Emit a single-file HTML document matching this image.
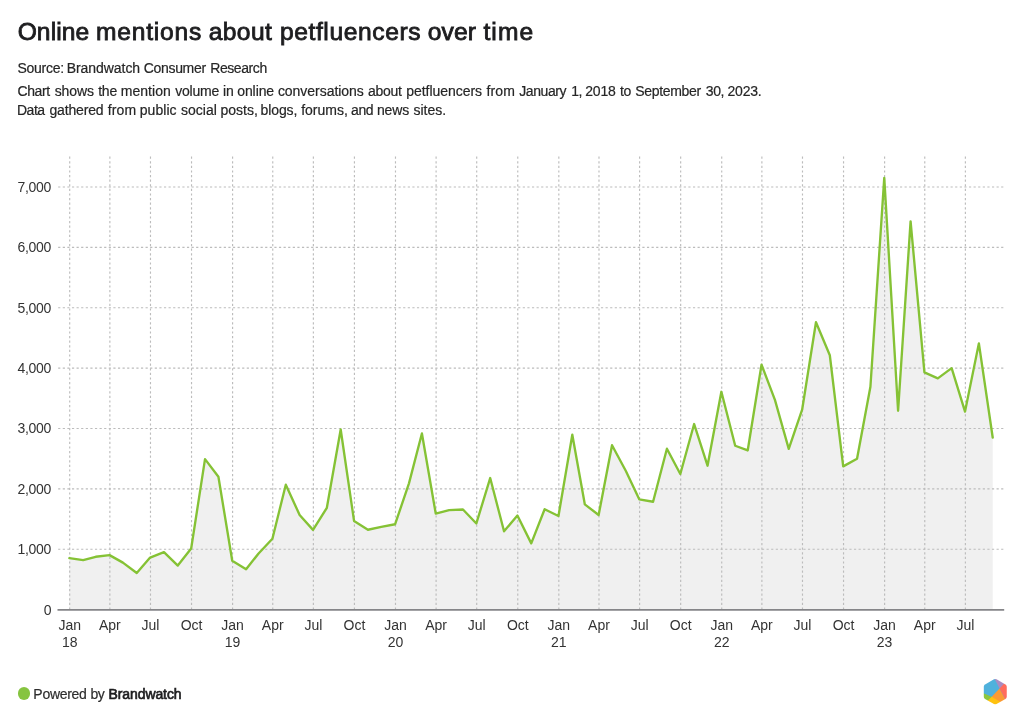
<!DOCTYPE html>
<html lang="en">
<head>
<meta charset="utf-8">
<title>Online mentions about petfluencers over time</title>
<style>
html,body{margin:0;padding:0;background:#fff;}
body{width:1024px;height:725px;position:relative;overflow:hidden;font-family:"Liberation Sans",Arial,Helvetica,sans-serif;color:#222;}
.t{position:absolute;white-space:nowrap;margin:0;line-height:1;}
#title{left:0;top:20px;font-size:24.6px;font-weight:400;color:#1d1d1f;-webkit-text-stroke:0.85px #1d1d1f;}
#src{left:0;top:60.55px;font-size:14px;color:#262626;-webkit-text-stroke:0.2px #262626;}
#d1{left:0;top:83.65px;font-size:14px;color:#262626;-webkit-text-stroke:0.2px #262626;}
#d2{left:0;top:102.75px;font-size:14px;color:#262626;-webkit-text-stroke:0.2px #262626;}
#foot{left:0;top:686.6px;font-size:14px;color:#2e2e2e;-webkit-text-stroke:0.2px #2e2e2e;}
.t{width:1024px;height:1em;}
.t .w{position:absolute;top:0;}
#foot b{color:#1d1d1f;font-weight:400;-webkit-text-stroke:0.65px #1d1d1f;}
#dot{position:absolute;left:17.8px;top:687.3px;width:12.4px;height:12.4px;border-radius:50%;background:#86c440;}
svg{position:absolute;left:0;top:0;}
svg text{font-family:"Liberation Sans",Arial,Helvetica,sans-serif;font-size:14px;fill:#333333;}
.g{stroke:#bcbcbc;stroke-width:1.15;stroke-dasharray:2.2 2.4;fill:none;}
</style>
</head>
<body>
<h1 class="t" id="title"><span class="w" id="title_0" style="left:17.65px;letter-spacing:0.100px">Online</span> <span class="w" id="title_1" style="left:96.00px;letter-spacing:0.779px">mentions</span> <span class="w" id="title_2" style="left:208.70px;letter-spacing:0.400px">about</span> <span class="w" id="title_3" style="left:279.95px;letter-spacing:0.600px">petfluencers</span> <span class="w" id="title_4" style="left:427.65px;letter-spacing:0.167px">over</span> <span class="w" id="title_5" style="left:483.40px;letter-spacing:1.100px">time</span></h1>
<p class="t" id="src"><span class="w" id="src_0" style="left:17.45px;letter-spacing:-0.258px">Source:</span> <span class="w" id="src_1" style="left:66.70px;letter-spacing:-0.056px">Brandwatch</span> <span class="w" id="src_2" style="left:143.70px;letter-spacing:-0.307px">Consumer</span> <span class="w" id="src_3" style="left:210.20px;letter-spacing:-0.414px">Research</span></p>
<p class="t" id="d1"><span class="w" id="d1_0" style="left:17.45px;letter-spacing:-0.412px">Chart</span> <span class="w" id="d1_1" style="left:54.70px;letter-spacing:-0.100px">shows</span> <span class="w" id="d1_2" style="left:98.15px;letter-spacing:-0.175px">the</span> <span class="w" id="d1_3" style="left:120.70px;letter-spacing:0.058px">mention</span> <span class="w" id="d1_4" style="left:175.20px;letter-spacing:-0.230px">volume</span> <span class="w" id="d1_5" style="left:222.95px;letter-spacing:-0.050px">in</span> <span class="w" id="d1_6" style="left:237.20px;letter-spacing:-0.080px">online</span> <span class="w" id="d1_7" style="left:277.90px;letter-spacing:-0.033px">conversations</span> <span class="w" id="d1_8" style="left:367.90px;letter-spacing:-0.250px">about</span> <span class="w" id="d1_9" style="left:406.25px;letter-spacing:-0.036px">petfluencers</span> <span class="w" id="d1_10" style="left:486.45px;letter-spacing:0.167px">from</span> <span class="w" id="d1_11" style="left:519.20px;letter-spacing:-0.417px">January</span> <span class="w" id="d1_12" style="left:571.15px;letter-spacing:-0.450px">1,</span> <span class="w" id="d1_13" style="left:585.15px;letter-spacing:-0.133px">2018</span> <span class="w" id="d1_14" style="left:620.05px;letter-spacing:-0.450px">to</span> <span class="w" id="d1_15" style="left:635.15px;letter-spacing:-0.306px">September</span> <span class="w" id="d1_16" style="left:705.70px;letter-spacing:-0.325px">30,</span> <span class="w" id="d1_17" style="left:727.50px;letter-spacing:-0.212px">2023.</span></p>
<p class="t" id="d2"><span class="w" id="d2_0" style="left:16.95px;letter-spacing:-0.450px">Data</span> <span class="w" id="d2_1" style="left:49.45px;letter-spacing:-0.150px">gathered</span> <span class="w" id="d2_2" style="left:107.70px;letter-spacing:0.117px">from</span> <span class="w" id="d2_3" style="left:139.70px;letter-spacing:0.070px">public</span> <span class="w" id="d2_4" style="left:180.95px;letter-spacing:0.020px">social</span> <span class="w" id="d2_5" style="left:220.45px;letter-spacing:0.020px">posts,</span> <span class="w" id="d2_6" style="left:260.45px;letter-spacing:-0.080px">blogs,</span> <span class="w" id="d2_7" style="left:301.20px;letter-spacing:-0.000px">forums,</span> <span class="w" id="d2_8" style="left:351.10px;letter-spacing:-0.450px">and</span> <span class="w" id="d2_9" style="left:376.95px;letter-spacing:-0.133px">news</span> <span class="w" id="d2_10" style="left:413.45px;letter-spacing:0.010px">sites.</span></p>
<svg width="1024" height="725" viewBox="0 0 1024 725">
<path d="M69.35,558.16L83.18,560.10L95.68,556.77L109.52,555.14L122.90,562.63L136.74,573.01L150.13,557.56L163.96,552.07L177.80,565.59L191.18,548.50L205.02,459.15L218.41,476.78L232.24,560.70L246.08,569.27L258.57,553.45L272.41,538.72L285.80,484.69L299.63,515.00L313.02,529.91L326.85,507.81L340.69,429.51L354.08,521.10L367.91,529.73L381.30,526.95L395.13,524.23L408.97,483.36L421.91,433.44L435.75,513.67L449.13,510.11L462.97,509.50L476.36,523.45L490.19,478.05L504.03,531.24L517.42,515.60L531.25,543.37L544.64,509.20L558.47,516.02L572.31,434.76L584.80,504.31L598.64,515.00L612.03,445.21L625.86,471.05L639.25,499.36L653.08,501.78L666.92,448.71L680.31,473.95L694.14,424.02L707.53,465.73L721.37,391.78L735.20,445.75L747.70,450.46L761.53,364.73L774.92,399.87L788.75,448.89L802.14,409.71L815.98,322.23L829.81,355.26L843.20,466.40L857.03,458.79L870.42,386.77L884.26,177.94L898.09,410.74L910.59,221.41L924.42,372.34L937.81,378.38L951.65,368.17L965.03,411.58L978.87,343.36L992.70,437.54L992.70,609.60L69.35,609.60Z" fill="#f0f0f0" stroke="none"/>
<g class="g">
<line x1="69.70" y1="156.6" x2="69.70" y2="609.6"/>
<line x1="109.87" y1="156.6" x2="109.87" y2="609.6"/>
<line x1="150.48" y1="156.6" x2="150.48" y2="609.6"/>
<line x1="191.53" y1="156.6" x2="191.53" y2="609.6"/>
<line x1="232.59" y1="156.6" x2="232.59" y2="609.6"/>
<line x1="272.76" y1="156.6" x2="272.76" y2="609.6"/>
<line x1="313.37" y1="156.6" x2="313.37" y2="609.6"/>
<line x1="354.43" y1="156.6" x2="354.43" y2="609.6"/>
<line x1="395.48" y1="156.6" x2="395.48" y2="609.6"/>
<line x1="436.10" y1="156.6" x2="436.10" y2="609.6"/>
<line x1="476.71" y1="156.6" x2="476.71" y2="609.6"/>
<line x1="517.77" y1="156.6" x2="517.77" y2="609.6"/>
<line x1="558.82" y1="156.6" x2="558.82" y2="609.6"/>
<line x1="598.99" y1="156.6" x2="598.99" y2="609.6"/>
<line x1="639.60" y1="156.6" x2="639.60" y2="609.6"/>
<line x1="680.66" y1="156.6" x2="680.66" y2="609.6"/>
<line x1="721.72" y1="156.6" x2="721.72" y2="609.6"/>
<line x1="761.88" y1="156.6" x2="761.88" y2="609.6"/>
<line x1="802.49" y1="156.6" x2="802.49" y2="609.6"/>
<line x1="843.55" y1="156.6" x2="843.55" y2="609.6"/>
<line x1="884.61" y1="156.6" x2="884.61" y2="609.6"/>
<line x1="924.77" y1="156.6" x2="924.77" y2="609.6"/>
<line x1="965.38" y1="156.6" x2="965.38" y2="609.6"/>
<line x1="58.15" y1="549.23" x2="1004" y2="549.23"/>
<line x1="58.15" y1="488.86" x2="1004" y2="488.86"/>
<line x1="58.15" y1="428.49" x2="1004" y2="428.49"/>
<line x1="58.15" y1="368.11" x2="1004" y2="368.11"/>
<line x1="58.15" y1="307.74" x2="1004" y2="307.74"/>
<line x1="58.15" y1="247.37" x2="1004" y2="247.37"/>
<line x1="58.15" y1="187.00" x2="1004" y2="187.00"/>
</g>
<line x1="57.5" y1="609.85" x2="1004.2" y2="609.85" stroke="#858588" stroke-width="1.8"/>
<path d="M69.35,558.16L83.18,560.10L95.68,556.77L109.52,555.14L122.90,562.63L136.74,573.01L150.13,557.56L163.96,552.07L177.80,565.59L191.18,548.50L205.02,459.15L218.41,476.78L232.24,560.70L246.08,569.27L258.57,553.45L272.41,538.72L285.80,484.69L299.63,515.00L313.02,529.91L326.85,507.81L340.69,429.51L354.08,521.10L367.91,529.73L381.30,526.95L395.13,524.23L408.97,483.36L421.91,433.44L435.75,513.67L449.13,510.11L462.97,509.50L476.36,523.45L490.19,478.05L504.03,531.24L517.42,515.60L531.25,543.37L544.64,509.20L558.47,516.02L572.31,434.76L584.80,504.31L598.64,515.00L612.03,445.21L625.86,471.05L639.25,499.36L653.08,501.78L666.92,448.71L680.31,473.95L694.14,424.02L707.53,465.73L721.37,391.78L735.20,445.75L747.70,450.46L761.53,364.73L774.92,399.87L788.75,448.89L802.14,409.71L815.98,322.23L829.81,355.26L843.20,466.40L857.03,458.79L870.42,386.77L884.26,177.94L898.09,410.74L910.59,221.41L924.42,372.34L937.81,378.38L951.65,368.17L965.03,411.58L978.87,343.36L992.70,437.54" fill="none" stroke="#85c235" stroke-width="2.35" stroke-linejoin="round" stroke-linecap="round"/>
<g text-anchor="end" letter-spacing="-0.3">
<text x="51.3" y="614.60">0</text>
<text x="51.0" y="554.23">1,000</text>
<text x="51.0" y="493.86">2,000</text>
<text x="51.0" y="433.49">3,000</text>
<text x="51.0" y="373.11">4,000</text>
<text x="51.0" y="312.74">5,000</text>
<text x="51.0" y="252.37">6,000</text>
<text x="51.0" y="192.00">7,000</text>
</g>
<g text-anchor="middle">
<text x="69.70" y="629.7">Jan</text>
<text x="69.70" y="646.8">18</text>
<text x="109.87" y="629.7">Apr</text>
<text x="150.48" y="629.7">Jul</text>
<text x="191.53" y="629.7">Oct</text>
<text x="232.59" y="629.7">Jan</text>
<text x="232.59" y="646.8">19</text>
<text x="272.76" y="629.7">Apr</text>
<text x="313.37" y="629.7">Jul</text>
<text x="354.43" y="629.7">Oct</text>
<text x="395.48" y="629.7">Jan</text>
<text x="395.48" y="646.8">20</text>
<text x="436.10" y="629.7">Apr</text>
<text x="476.71" y="629.7">Jul</text>
<text x="517.77" y="629.7">Oct</text>
<text x="558.82" y="629.7">Jan</text>
<text x="558.82" y="646.8">21</text>
<text x="598.99" y="629.7">Apr</text>
<text x="639.60" y="629.7">Jul</text>
<text x="680.66" y="629.7">Oct</text>
<text x="721.72" y="629.7">Jan</text>
<text x="721.72" y="646.8">22</text>
<text x="761.88" y="629.7">Apr</text>
<text x="802.49" y="629.7">Jul</text>
<text x="843.55" y="629.7">Oct</text>
<text x="884.61" y="629.7">Jan</text>
<text x="884.61" y="646.8">23</text>
<text x="924.77" y="629.7">Apr</text>
<text x="965.38" y="629.7">Jul</text>
</g>
<g id="logo" transform="translate(995.25,691.65)">
<clipPath id="hex"><path d="M-1.28,-12.28Q0.00,-13.00 1.28,-12.28L10.18,-7.25Q11.50,-6.50 11.50,-4.98L11.50,4.98Q11.50,6.50 10.18,7.25L1.28,12.28Q0.00,13.00 -1.28,12.28L-10.18,7.25Q-11.50,6.50 -11.50,4.98L-11.50,-4.98Q-11.50,-6.50 -10.18,-7.25Z"/></clipPath>
<g clip-path="url(#hex)" opacity="0.999">
<rect x="-15" y="-15" width="30" height="30" fill="#4fb1dc"/>
<polygon points="4.34,-3.27 15.26,17.57 -3.6,17.57 -3.6,5.17" fill="#fb9a34"/>
<polygon points="4.34,-3.27 6,-10 16,-10 15.26,17.57" fill="#ff6c5c"/>
<polygon points="-3.6,5.17 12.78,14.6 -10,14.6 -9,8" fill="#ffc20e"/>
<polygon points="4.34,-3.27 -3.15,-17.4 13,-17 13.26,-12.69" fill="#a98cc2"/>
<polygon points="-3.6,5.17 -15.5,-0.03 -15.5,14 -10.56,12.13" fill="#8cc63f"/>
</g>
</g>
</svg>
<div id="dot"></div>
<p class="t" id="foot"><span class="w" id="pw_0" style="left:33.35px;letter-spacing:-0.283px">Powered</span> <span class="w" id="pw_1" style="left:90.40px;letter-spacing:-0.450px">by</span> <b class="w" id="bw_0" style="left:108.55px;letter-spacing:-0.100px">Brandwatch</b></p>
</body>
</html>
